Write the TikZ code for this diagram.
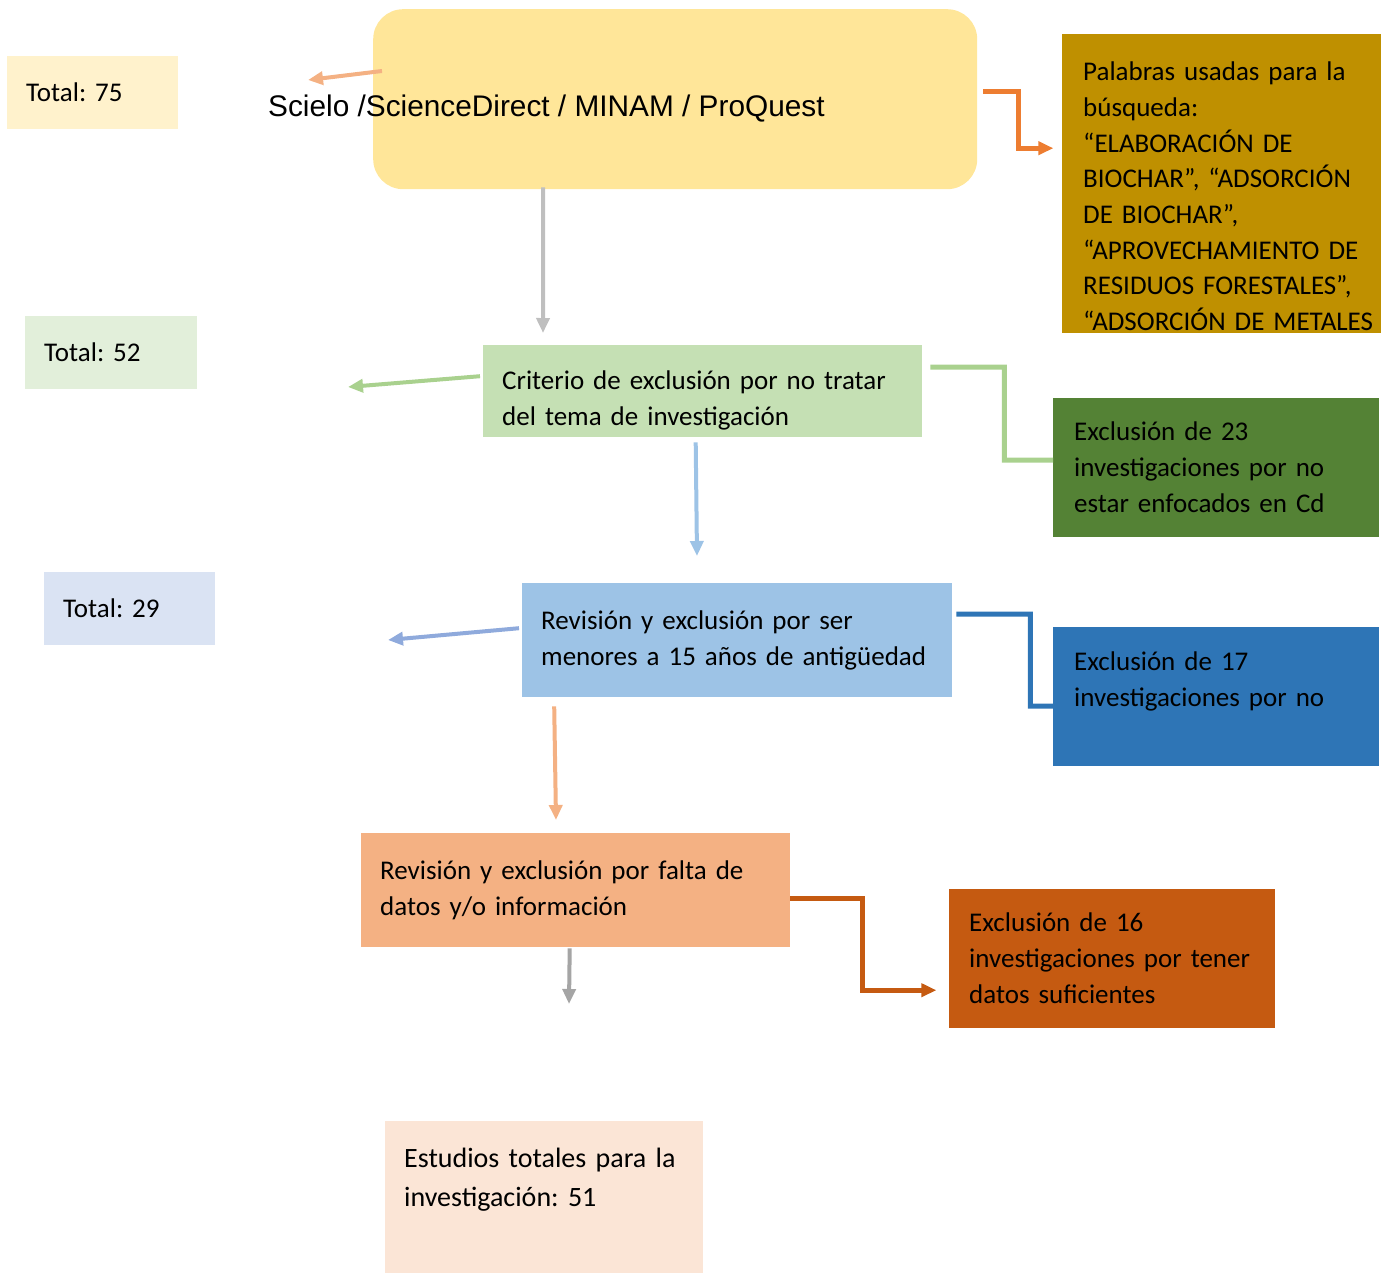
\documentclass[tikz,border=0pt]{standalone}
\usepackage{fontspec}
\setmainfont{Carlito}[WordSpace=0.75]
\newfontfamily\arialfont{Liberation Sans}
\usetikzlibrary{arrows.meta}
\frenchspacing

\definecolor{totalbgA}{HTML}{FFF2CC}
\definecolor{totalbgB}{HTML}{E2EFDA}
\definecolor{totalbgC}{HTML}{DAE3F3}
\definecolor{searchbg}{HTML}{FFE699}
\definecolor{keybg}{HTML}{BF9000}
\definecolor{topicbg}{HTML}{C5E0B4}
\definecolor{excl23bg}{HTML}{548235}
\definecolor{agebg}{HTML}{9DC3E6}
\definecolor{excl17bg}{HTML}{2E75B6}
\definecolor{databg}{HTML}{F4B183}
\definecolor{excl16bg}{HTML}{C55A11}
\definecolor{finalbg}{HTML}{FBE5D6}
\definecolor{salmon}{HTML}{F4B183}
\definecolor{grayA}{HTML}{BFBFBF}
\definecolor{grayB}{HTML}{A5A5A5}
\definecolor{orangeA}{HTML}{ED7D31}
\definecolor{greenA}{HTML}{A9D18E}
\definecolor{blueA}{HTML}{9DC3E6}
\definecolor{blueB}{HTML}{8FAADC}
\definecolor{blueC}{HTML}{2E75B6}
\definecolor{rust}{HTML}{C55A11}

\tikzset{
  stage/.style={anchor=north west, inner xsep=19pt, inner ysep=0pt, align=left,
    font=\fontsize{27}{36}\selectfont},
  flow/.style={line width=4pt, -{Triangle[length=15pt,width=13pt]}},
  elbow/.style={line width=5pt},
}

\begin{document}
\begin{tikzpicture}[x=1pt,y=-1pt]
    \useasboundingbox (0,0) rectangle (1389,1274);

    \node[stage, fill=totalbgA, text width=133pt, minimum height=73pt] (t75) at (7,56) {Total: 75};
    \node[stage, fill=searchbg, rounded corners=30pt, minimum width=604pt, minimum height=180pt] (search) at (373,9) {};
    \node[anchor=base west, inner sep=0pt, font=\arialfont\fontsize{29.8}{34}\selectfont] (sources) at (268,116)
        {Scielo /ScienceDirect / MINAM / ProQuest};
    \node[stage, fill=keybg, inner xsep=21pt, text width=277pt, minimum height=299pt,
          font=\fontsize{27}{35.7}\selectfont] (keywords) at (1062,34)
        {\rule{0pt}{44pt}Palabras usadas para la\\búsqueda:\\“ELABORACIÓN DE\\BIOCHAR”, “ADSORCIÓN\\DE BIOCHAR”,\\“APROVECHAMIENTO DE\\RESIDUOS FORESTALES”,\\\mbox{“ADSORCIÓN DE METALES}};

    \node[stage, fill=totalbgB, text width=134pt, minimum height=73pt] (t52) at (25,316) {Total: 52};
    \node[stage, fill=topicbg, text width=401pt, minimum height=92pt] (topic) at (483,345)
        {\rule{0pt}{38pt}Criterio de exclusión por no tratar\\del tema de investigación};
    \node[stage, fill=excl23bg, inner xsep=21pt, text width=284pt, minimum height=139pt] (excl23) at (1053,398)
        {Exclusión de 23\\investigaciones por no\\estar enfocados en Cd};

    \node[stage, fill=totalbgC, text width=133pt, minimum height=73pt] (t29) at (44,572) {Total: 29};
    \node[stage, fill=agebg, text width=392pt, minimum height=114pt] (age) at (522,583)
        {Revisión y exclusión por ser\\menores a 15 años de antigüedad};
    \node[stage, fill=excl17bg, inner xsep=21pt, text width=284pt, minimum height=139pt] (excl17) at (1053,627)
        {Exclusión de 17\\investigaciones por no\\\mbox{}};

    \node[stage, fill=databg, text width=391pt, minimum height=114pt] (data) at (361,833)
        {Revisión y exclusión por falta de\\datos y/o información};
    \node[stage, fill=excl16bg, inner xsep=20pt, text width=286pt, minimum height=139pt] (excl16) at (949,889)
        {Exclusión de 16\\investigaciones por tener\\datos suficientes};
    \node[stage, fill=finalbg, font=\fontsize{28}{39}\selectfont, text width=280pt, minimum height=152pt] (final) at (385,1121)
        {Estudios totales para la\\investigación: 51\\\mbox{}};

    \coordinate (srcTip)   at (308,80);
    \coordinate (topicIn)  at (543,333);
    \coordinate (topicOut) at (348,387);
    \coordinate (ageIn)    at (697,556);
    \coordinate (ageOut)   at (388,640);
    \coordinate (dataIn)   at (556,820);
    \coordinate (dataOut)  at (569,1004);

    \draw[flow, salmon] ([shift={(9,62)}]search.north west) -- (srcTip);
    \draw[flow, grayA]  ([shift={(-132,-2)}]search.south) -- (topicIn);
    \draw[flow, line width=5pt, orangeA] ([shift={(6,-8)}]search.east) -- ++(35,0) -- ++(0,57) -- ++(35,0);

    \draw[flow, greenA]  ([shift={(-3,-15)}]topic.west) -- (topicOut);
    \draw[elbow, greenA] ([shift={(8,-24)}]topic.east) -- ++(74,0) -- ++(0,93) -- (excl23.west |- 0,460);
    \draw[flow, blueA]   ([shift={(-7,5)}]topic.south) -- (ageIn);

    \draw[flow, blueB]  ([shift={(-3,-12)}]age.west) -- (ageOut);
    \draw[elbow, blueC] ([shift={(4,-26)}]age.east) -- ++(74,0) -- ++(0,92) -- (excl17.west |- 0,706);
    \draw[flow, salmon] ([shift={(-183,9)}]age.south) -- (dataIn);

    \draw[flow, grayB] ([shift={(-6,1)}]data.south) -- (dataOut);
    \draw[flow, line width=5pt, rust] ([yshift=-8pt]data.east) -- ++(72,0) -- ++(0,92) -- ++(74,0);
\end{tikzpicture}
\end{document}
